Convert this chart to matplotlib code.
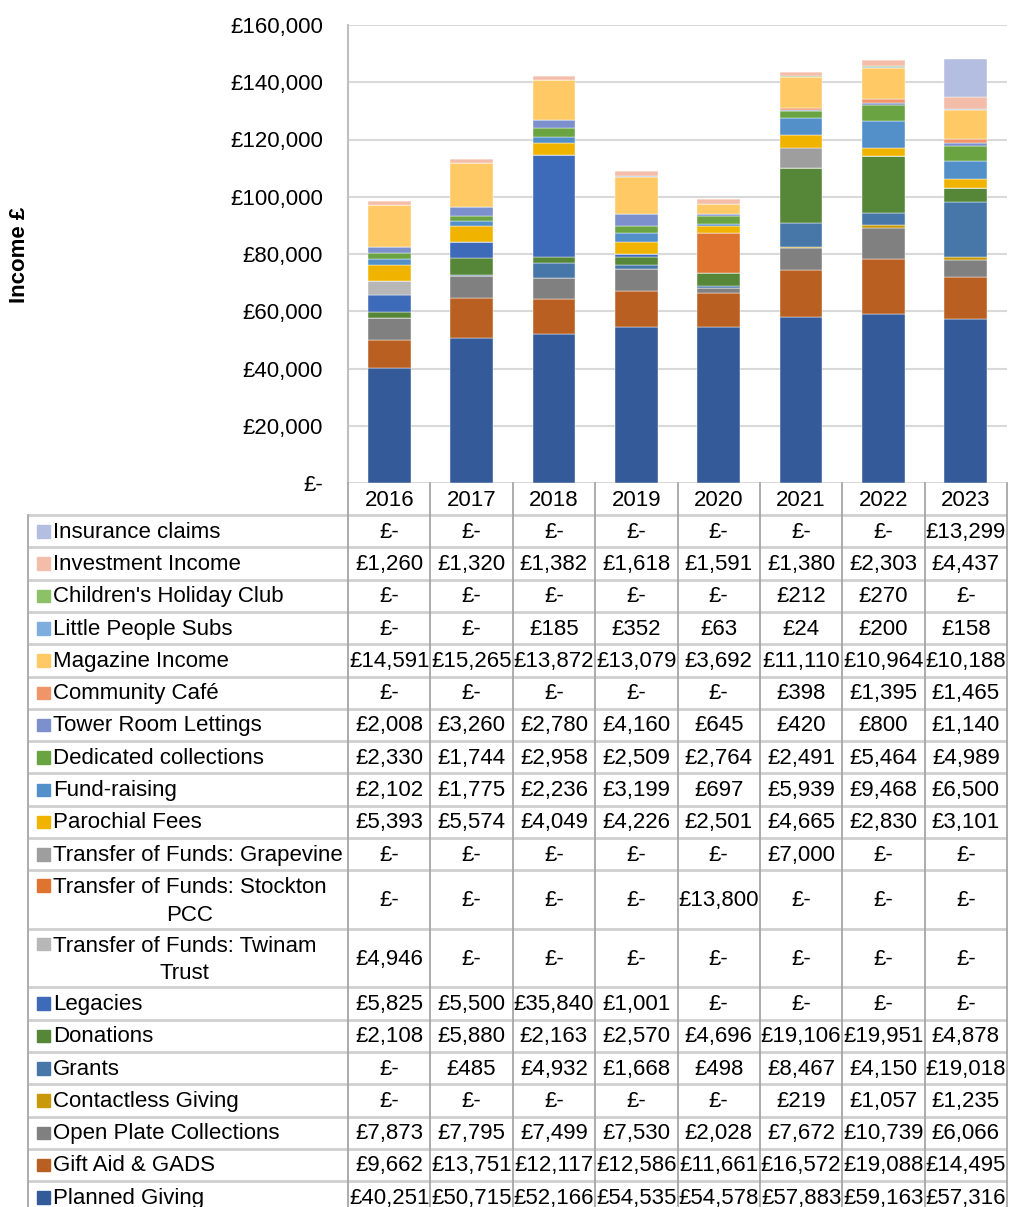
import numpy as np
import matplotlib
matplotlib.use("Agg")
import matplotlib.pyplot as plt
from matplotlib.ticker import FuncFormatter

plt.rcParams['font.family'] = ['Liberation Sans', 'DejaVu Sans']

years = ['2016', '2017', '2018', '2019', '2020', '2021', '2022', '2023']

# series in the order of the data table (top of the stack first)
labels = ['Insurance claims', 'Investment Income', "Children's Holiday Club",
          'Little People Subs', 'Magazine Income', 'Community Café',
          'Tower Room Lettings', 'Dedicated collections', 'Fund-raising',
          'Parochial Fees', 'Transfer of Funds: Grapevine',
          'Transfer of Funds: Stockton\nPCC', 'Transfer of Funds: Twinam\nTrust',
          'Legacies', 'Donations', 'Grants', 'Contactless Giving',
          'Open Plate Collections', 'Gift Aid & GADS', 'Planned Giving']

insurance = [0, 0, 0, 0, 0, 0, 0, 13299]
investment = [1260, 1320, 1382, 1618, 1591, 1380, 2303, 4437]
childrens = [0, 0, 0, 0, 0, 212, 270, 0]
little_people = [0, 0, 185, 352, 63, 24, 200, 158]
magazine = [14591, 15265, 13872, 13079, 3692, 11110, 10964, 10188]
cafe = [0, 0, 0, 0, 0, 398, 1395, 1465]
tower_room = [2008, 3260, 2780, 4160, 645, 420, 800, 1140]
dedicated = [2330, 1744, 2958, 2509, 2764, 2491, 5464, 4989]
fundraising = [2102, 1775, 2236, 3199, 697, 5939, 9468, 6500]
parochial = [5393, 5574, 4049, 4226, 2501, 4665, 2830, 3101]
grapevine = [0, 0, 0, 0, 0, 7000, 0, 0]
stockton = [0, 0, 0, 0, 13800, 0, 0, 0]
twinam = [4946, 0, 0, 0, 0, 0, 0, 0]
legacies = [5825, 5500, 35840, 1001, 0, 0, 0, 0]
donations = [2108, 5880, 2163, 2570, 4696, 19106, 19951, 4878]
grants = [0, 485, 4932, 1668, 498, 8467, 4150, 19018]
contactless = [0, 0, 0, 0, 0, 219, 1057, 1235]
open_plate = [7873, 7795, 7499, 7530, 2028, 7672, 10739, 6066]
gift_aid = [9662, 13751, 12117, 12586, 11661, 16572, 19088, 14495]
planned = [40251, 50715, 52166, 54535, 54578, 57883, 59163, 57316]

values = [insurance, investment, childrens, little_people, magazine, cafe,
          tower_room, dedicated, fundraising, parochial, grapevine, stockton,
          twinam, legacies, donations, grants, contactless, open_plate,
          gift_aid, planned]

colors = ['#B4BEE0', '#F4BDAA', '#8CC168', '#7DAEDD', '#FFC965', '#F0956A',
          '#7B90CC', '#6AA342', '#538FC9', '#F0B400', '#9E9E9E', '#DF7430',
          '#B7B7B7', '#3E6ABA', '#568638', '#4677A8', '#C89A0B', '#808080',
          '#BA5F22', '#345A9A']


def money(v, pos=None):
    return '£-' if v == 0 else '£{:,.0f}'.format(v)


W, H = 1009, 1207
fig = plt.figure(figsize=(W / 100, H / 100), dpi=100)

# chart area (pixels)
left, right, top, base = 348, 1007, 25, 483
ax = fig.add_axes([left / W, 1 - base / H, (right - left) / W, (base - top) / H])

x = np.arange(len(years))
bottom = np.zeros(len(years))
for vals, col in reversed(list(zip(values, colors))):
    ax.bar(x, vals, 0.52, bottom=bottom, color=col, edgecolor='white', linewidth=0.3)
    bottom += np.array(vals)

ax.set_xlim(-0.5, len(years) - 0.5)
ax.set_ylim(0, 160000)
ax.set_yticks(np.arange(0, 160001, 20000))
ax.yaxis.set_major_formatter(FuncFormatter(money))
ax.grid(axis='y', color='#D9D9D9', lw=1.5)
ax.set_axisbelow(True)
for s in ['top', 'right', 'bottom']:
    ax.spines[s].set_visible(False)
ax.spines['left'].set_color('#BFBFBF')
ax.spines['left'].set_linewidth(1.5)
ax.tick_params(axis='y', length=0, pad=18, labelsize=16)
ax.set_xticks([])

fig.text(20 / W, 1 - 255 / H, 'Income £', rotation=90, ha='center', va='center',
         fontsize=16, fontweight='bold')

# data table drawn in pixel coordinates
tab = fig.add_axes([0, 0, 1, 1])
tab.set_xlim(0, W)
tab.set_ylim(H, 0)
tab.axis('off')

colw = (right - left) / len(years)
head_bot = 515
row_h = [58.5 if '\n' in lab else 32.3 for lab in labels]
edges = head_bot + np.concatenate([[0], np.cumsum(row_h)])

for i, yr in enumerate(years):
    tab.text(left + (i + 0.5) * colw, (base + head_bot) / 2 + 1, yr,
             ha='center', va='center', fontsize=16)

for yy in edges:
    tab.plot([28, right], [yy, yy], color='#CFCFCF', lw=2, solid_capstyle='butt')
for k in range(len(years) + 1):
    tab.plot([left + k * colw] * 2, [base, H], color='#A6A6A6', lw=1.3)
tab.plot([28, 28], [head_bot, H], color='#A6A6A6', lw=1.3)

for r, (lab, vals, col) in enumerate(zip(labels, values, colors)):
    y0, y1 = edges[r], edges[r + 1]
    ym = (y0 + y1) / 2
    if '\n' in lab:
        tab.add_patch(plt.Rectangle((37, y0 + 9), 12.5, 12.5, color=col))
        tab.text(53, ym + 2, lab, ha='left', va='center', multialignment='center',
                 fontsize=16, linespacing=1.4)
    else:
        tab.add_patch(plt.Rectangle((37, ym - 6), 12.5, 12.5, color=col))
        tab.text(53, ym + 1, lab, ha='left', va='center', fontsize=16)
    for i, v in enumerate(vals):
        tab.text(left + (i + 0.5) * colw, ym + 1, money(v), ha='center', va='center',
                 fontsize=16)

fig.savefig('out.png', dpi=100)
